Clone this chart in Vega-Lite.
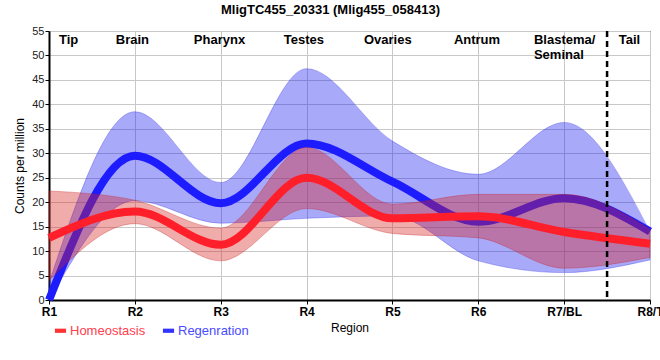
{
  "$schema": "https://vega.github.io/schema/vega-lite/v6.json",
  "width": 601,
  "height": 269,
  "autosize": {"type": "none"},
  "padding": {"left": 49, "top": 31, "right": 10, "bottom": 60},
  "background": "white",
  "title": {
    "text": "MligTC455_20331 (Mlig455_058413)",
    "anchor": "middle",
    "dx": -19,
    "offset": 8,
    "font": "Liberation Sans",
    "fontSize": 13,
    "fontWeight": "bold",
    "color": "black"
  },
  "config": {
    "font": "Liberation Sans",
    "view": {"stroke": "black", "strokeWidth": 1},
    "axis": {
      "gridColor": "#c8c8c8",
      "gridWidth": 1,
      "domainColor": "black",
      "domainWidth": 2,
      "tickColor": "black",
      "labelColor": "#222222",
      "titleColor": "black",
      "titleFontWeight": "normal",
      "titleFont": "Liberation Sans",
      "labelFont": "Liberation Sans"
    }
  },
  "datasets": {
    "expr": [
      {"idx": 1, "group": "Homeostasis", "mean": 12.7, "lo": 4.0, "hi": 22.3},
      {"idx": 2, "group": "Homeostasis", "mean": 18.1, "lo": 15.6, "hi": 20.4},
      {"idx": 3, "group": "Homeostasis", "mean": 11.3, "lo": 8.0, "hi": 14.7},
      {"idx": 4, "group": "Homeostasis", "mean": 25.0, "lo": 18.7, "hi": 31.2},
      {"idx": 5, "group": "Homeostasis", "mean": 16.7, "lo": 13.6, "hi": 19.6},
      {"idx": 6, "group": "Homeostasis", "mean": 17.1, "lo": 12.7, "hi": 21.6},
      {"idx": 7, "group": "Homeostasis", "mean": 13.9, "lo": 6.5, "hi": 21.6},
      {"idx": 8, "group": "Homeostasis", "mean": 11.5, "lo": 8.7, "hi": 14.5},
      {"idx": 1, "group": "Regenration", "mean": 0.0, "lo": 0.0, "hi": 3.5},
      {"idx": 2, "group": "Regenration", "mean": 29.5, "lo": 20.3, "hi": 38.5},
      {"idx": 3, "group": "Regenration", "mean": 19.8, "lo": 15.7, "hi": 24.0},
      {"idx": 4, "group": "Regenration", "mean": 32.0, "lo": 16.7, "hi": 47.3},
      {"idx": 5, "group": "Regenration", "mean": 24.2, "lo": 17.2, "hi": 32.5},
      {"idx": 6, "group": "Regenration", "mean": 16.0, "lo": 8.0, "hi": 25.7},
      {"idx": 7, "group": "Regenration", "mean": 20.8, "lo": 5.6, "hi": 36.3},
      {"idx": 8, "group": "Regenration", "mean": 14.0, "lo": 8.2, "hi": 14.0}
    ],
    "regions": [
      {"pos": 1.117, "level": 52.3, "name": "Tip"},
      {"pos": 1.778, "level": 52.3, "name": "Brain"},
      {"pos": 2.687, "level": 52.3, "name": "Pharynx"},
      {"pos": 3.735, "level": 52.3, "name": "Testes"},
      {"pos": 4.668, "level": 52.3, "name": "Ovaries"},
      {"pos": 5.716, "level": 52.3, "name": "Antrum"},
      {"pos": 6.648, "level": 52.3, "name": "Blastema/\nSeminal"},
      {"pos": 7.636, "level": 52.3, "name": "Tail"}
    ],
    "divider": [{"pos": 7.5}]
  },
  "layer": [
    {
      "data": {"name": "expr"},
      "transform": [{"filter": "datum.group == 'Regenration'"}],
      "mark": {"type": "area", "interpolate": "monotone", "fill": "#1212f2", "fillOpacity": 0.36, "stroke": "#2020e0", "strokeOpacity": 0.3, "strokeWidth": 1},
      "encoding": {
        "x": {
          "field": "idx", "type": "quantitative",
          "scale": {"domain": [1, 8], "nice": false, "zero": false},
          "axis": {
            "values": [1, 2, 3, 4, 5, 6, 7, 8],
            "labelExpr": "['R1','R2','R3','R4','R5','R6','R7/BL','R8/T'][datum.value - 1]",
            "labelFontWeight": "bold",
            "labelFontSize": 12,
            "labelColor": "black",
            "labelPadding": 2,
            "tickSize": 4,
            "title": "Region",
            "titleFontSize": 12,
            "titlePadding": 5,
            "labelFlush": false,
            "labelOverlap": false
          }
        },
        "y": {
          "field": "lo", "type": "quantitative",
          "scale": {"domain": [0, 55], "nice": false, "zero": true},
          "axis": {
            "values": [0, 5, 10, 15, 20, 25, 30, 35, 40, 45, 50, 55],
            "labelOverlap": false,
            "labelFontSize": 11,
            "tickSize": 4,
            "labelPadding": 1,
            "title": "Counts per million",
            "titleFontSize": 12,
            "titlePadding": 5
          }
        },
        "y2": {"field": "hi"}
      }
    },
    {
      "data": {"name": "expr"},
      "transform": [{"filter": "datum.group == 'Regenration'"}],
      "mark": {"type": "line", "interpolate": "monotone", "strokeWidth": 8},
      "encoding": {
        "x": {"field": "idx", "type": "quantitative", "axis": {"values": [1, 2, 3, 4, 5, 6, 7, 8]}},
        "y": {"field": "mean", "type": "quantitative", "axis": {"values": [0, 5, 10, 15, 20, 25, 30, 35, 40, 45, 50, 55], "labelOverlap": false}},
        "color": {
          "field": "group", "type": "nominal",
          "scale": {"domain": ["Homeostasis", "Regenration"], "range": ["#ff1f2a", "#1c1cff"]},
          "legend": {
            "orient": "none",
            "direction": "horizontal",
            "legendX": 5,
            "legendY": 293,
            "title": null,
            "symbolType": "M-1,-0.375L1,-0.375L1,0.375L-1,0.375Z",
            "symbolSize": 125,
            "symbolStrokeWidth": 0,
            "labelFontSize": 13,
            "labelFont": "Liberation Sans",
            "labelOffset": 3,
            "columnPadding": 16,
            "encode": {
              "symbols": {"update": {"fill": {"signal": "datum.value == 'Homeostasis' ? '#ff3333' : '#3333ff'"}, "stroke": {"value": "transparent"}}},
              "labels": {"update": {"fill": {"signal": "datum.value == 'Homeostasis' ? '#ff4050' : '#4a4aff'"}}}
            }
          }
        }
      }
    },
    {
      "data": {"name": "expr"},
      "transform": [{"filter": "datum.group == 'Homeostasis'"}],
      "mark": {"type": "area", "interpolate": "monotone", "fill": "#d82222", "fillOpacity": 0.38, "stroke": "#c01818", "strokeOpacity": 0.3, "strokeWidth": 1},
      "encoding": {
        "x": {"field": "idx", "type": "quantitative", "axis": {"values": [1, 2, 3, 4, 5, 6, 7, 8]}},
        "y": {"field": "lo", "type": "quantitative", "axis": {"values": [0, 5, 10, 15, 20, 25, 30, 35, 40, 45, 50, 55], "labelOverlap": false}},
        "y2": {"field": "hi"}
      }
    },
    {
      "data": {"name": "expr"},
      "transform": [{"filter": "datum.group == 'Homeostasis'"}],
      "mark": {"type": "line", "interpolate": "monotone", "strokeWidth": 8},
      "encoding": {
        "x": {"field": "idx", "type": "quantitative", "axis": {"values": [1, 2, 3, 4, 5, 6, 7, 8]}},
        "y": {"field": "mean", "type": "quantitative", "axis": {"values": [0, 5, 10, 15, 20, 25, 30, 35, 40, 45, 50, 55], "labelOverlap": false}},
        "color": {"field": "group", "type": "nominal"}
      }
    },
    {
      "data": {"name": "divider"},
      "mark": {"type": "rule", "color": "black", "strokeWidth": 2.5, "strokeDash": [6, 4]},
      "encoding": {"x": {"field": "pos", "type": "quantitative", "axis": {"values": [1, 2, 3, 4, 5, 6, 7, 8]}}}
    },
    {
      "data": {"name": "regions"},
      "mark": {"type": "text", "align": "left", "baseline": "alphabetic", "fontWeight": "bold", "fontSize": 13, "font": "Liberation Sans", "color": "black", "lineBreak": "\n", "lineHeight": 15},
      "encoding": {
        "x": {"field": "pos", "type": "quantitative", "axis": {"values": [1, 2, 3, 4, 5, 6, 7, 8]}},
        "y": {"field": "level", "type": "quantitative", "axis": {"values": [0, 5, 10, 15, 20, 25, 30, 35, 40, 45, 50, 55], "labelOverlap": false}},
        "text": {"field": "name"}
      }
    }
  ]
}
